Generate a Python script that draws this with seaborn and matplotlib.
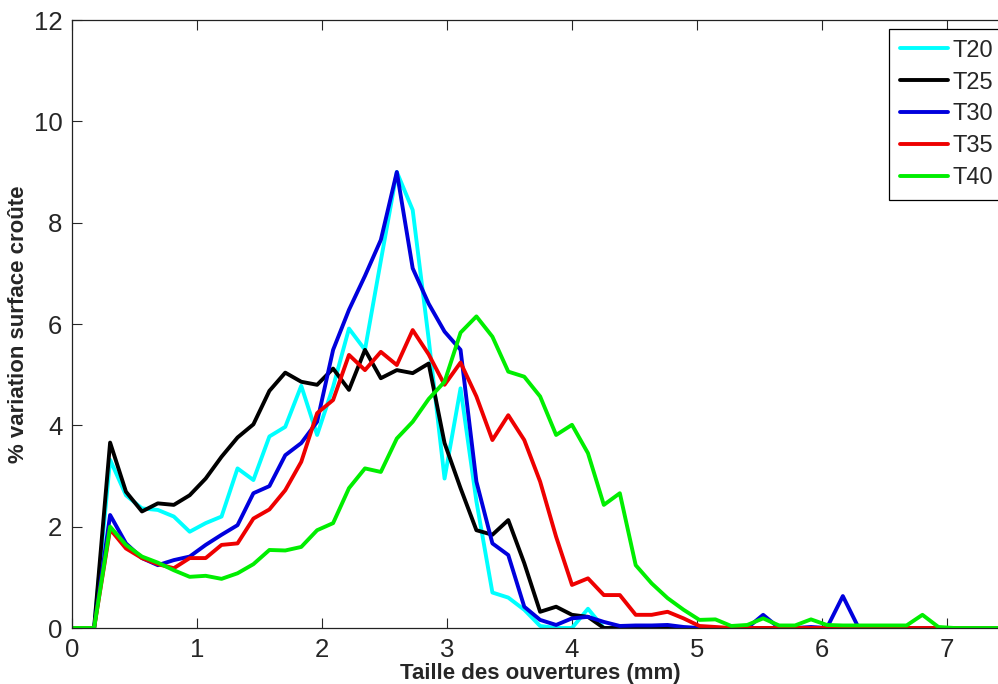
import numpy as np
import pandas as pd
import matplotlib
matplotlib.use("Agg")
import matplotlib.pyplot as plt
import seaborn as sns

# opening sizes (mm): first point at the origin, then the measurement grid
sizes = [0.0,
         0.177, 0.305, 0.432, 0.560, 0.687, 0.815, 0.942, 1.070, 1.197, 1.325,
         1.452, 1.580, 1.707, 1.835, 1.962, 2.090, 2.217, 2.345, 2.472, 2.600,
         2.727, 2.855, 2.982, 3.110, 3.237, 3.365, 3.492, 3.620, 3.747, 3.875,
         4.002, 4.130, 4.257, 4.385, 4.512, 4.640, 4.767, 4.895, 5.022, 5.150,
         5.277, 5.405, 5.532, 5.660, 5.787, 5.915, 6.042, 6.170, 6.297, 6.425,
         6.552, 6.680, 6.807, 6.935, 7.062, 7.190, 7.317, 7.445, 7.572]

t20 = [0, 0, 3.32, 2.62, 2.36, 2.33, 2.20, 1.90, 2.07, 2.20, 3.15,
       2.92, 3.78, 3.97, 4.78, 3.81, 4.76, 5.91, 5.49, 7.25, 9.00,
       8.25, 5.70, 2.95, 4.73, 2.50, 0.70, 0.60, 0.36, 0.04, 0,
       0, 0.38] + [0] * 27
t25 = [0, 0, 3.66, 2.69, 2.30, 2.46, 2.43, 2.62, 2.95, 3.38, 3.76,
       4.02, 4.68, 5.04, 4.86, 4.80, 5.12, 4.70, 5.49, 4.93, 5.09,
       5.03, 5.22, 3.65, 2.76, 1.93, 1.84, 2.13, 1.28, 0.32, 0.42,
       0.26, 0.22] + [0] * 27
t30 = [0, 0, 2.23, 1.67, 1.38, 1.24, 1.34, 1.41, 1.64, 1.84, 2.03,
       2.66, 2.80, 3.41, 3.65, 4.07, 5.49, 6.28, 6.95, 7.66, 9.00,
       7.10, 6.40, 5.85, 5.49, 2.89, 1.67, 1.44, 0.42, 0.16, 0.06,
       0.19, 0.22, 0.12, 0.04, 0.05, 0.05, 0.06, 0.02, 0, 0,
       0, 0, 0.26, 0, 0, 0.02, 0, 0.63] + [0] * 11
t35 = [0, 0, 1.95, 1.57, 1.38, 1.26, 1.18, 1.38, 1.38, 1.64, 1.67,
       2.16, 2.34, 2.72, 3.28, 4.24, 4.50, 5.39, 5.09, 5.45, 5.19,
       5.88, 5.40, 4.80, 5.24, 4.57, 3.71, 4.20, 3.71, 2.89, 1.80,
       0.85, 0.98, 0.65, 0.65, 0.26, 0.26, 0.32, 0.19, 0.04, 0.02] + [0] * 19
t40 = [0, 0, 2.00, 1.64, 1.41, 1.29, 1.14, 1.01, 1.03, 0.97, 1.08,
       1.26, 1.54, 1.53, 1.60, 1.93, 2.07, 2.76, 3.15, 3.08, 3.74,
       4.07, 4.52, 4.86, 5.83, 6.15, 5.75, 5.06, 4.96, 4.57, 3.81,
       4.01, 3.45, 2.43, 2.66, 1.24, 0.88, 0.59, 0.36, 0.16, 0.17,
       0.04, 0.06, 0.19, 0.05, 0.05, 0.17, 0.06, 0.05, 0.05, 0.05,
       0.05, 0.05, 0.26, 0.02] + [0] * 5

series = {"T20": t20, "T25": t25, "T30": t30, "T35": t35, "T40": t40}
colors = {"T20": "#00ffff", "T25": "#000000", "T30": "#0000dd",
          "T35": "#ee0000", "T40": "#00ee00"}

df = pd.concat([pd.DataFrame({"taille": sizes, "variation": vals, "essai": name})
                for name, vals in series.items()], ignore_index=True)

sns.set_style("ticks")
plt.rcParams["font.family"] = ["Liberation Sans", "DejaVu Sans"]

fig = plt.figure(figsize=(9.98, 6.84), dpi=100)
# axes run past the right edge of the picture, as in the cropped original
ax = fig.add_axes([72 / 998, 56 / 684, 937 / 998, 608 / 684])

sns.lineplot(data=df, x="taille", y="variation", hue="essai", palette=colors,
             linewidth=2.8, estimator=None, sort=False, ax=ax)

ax.set_xlim(0, 7.5)
ax.set_ylim(0, 12)
ax.set_xticks(range(0, 8))
ax.set_yticks(range(0, 13, 2))
ax.tick_params(direction="in", length=7, width=0.8, top=True, right=True,
               labelsize=18.5, pad=7)
for sp in ax.spines.values():
    sp.set_visible(True)
    sp.set_linewidth(0.9)
    sp.set_color("#222222")

ax.set_xlabel("Taille des ouvertures (mm)", fontsize=16, fontweight="bold", labelpad=1)
ax.set_ylabel("% variation surface croûte", fontsize=16, fontweight="bold", labelpad=3)

# legend box is cut by the right edge of the picture, like the original
sns.move_legend(ax, "upper left", bbox_to_anchor=(889 / 998, 1 - 29 / 684),
                bbox_transform=fig.transFigure, title=None, frameon=True,
                fontsize=17, handlelength=2.05, handletextpad=0.17,
                labelspacing=0.42, borderpad=0.45, borderaxespad=0,
                fancybox=False, edgecolor="black", framealpha=1)
leg = ax.get_legend()
for h in leg.legend_handles:
    h.set_linewidth(2.8)
leg.get_frame().set_linewidth(0.9)

fig.savefig("out.png", dpi=100)
